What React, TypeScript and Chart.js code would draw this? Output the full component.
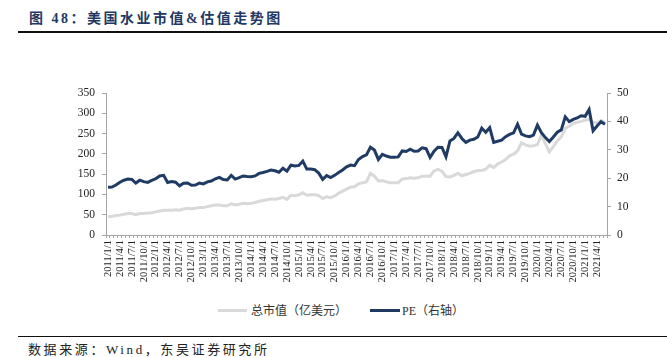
import React, { useEffect, useRef } from "react";
import { Chart, registerables } from "chart.js";

Chart.register(...registerables);

// Monthly categories 2011/1/1 ... 2021/6/1
const categories: string[] = [];
for (let y = 2011; y <= 2021; y++) {
  for (let m = 1; m <= 12; m++) {
    if (y === 2021 && m > 6) break;
    categories.push(`${y}/${m}/1`);
  }
}

// 总市值（亿美元） — left axis
const marketCap: number[] = [
  45, 46, 48, 49, 51, 53, 53, 50, 53, 53, 54, 55,
  57, 59, 61, 61, 61, 62, 61, 64, 66, 65, 66, 68,
  68, 70, 72, 74, 74, 72, 72, 77, 74, 76, 78, 77,
  78, 80, 83, 85, 87, 89, 88, 90, 93, 88, 98, 97,
  99, 104, 98, 99, 99, 97, 90, 94, 92, 96, 103, 108,
  113, 118, 119, 126, 129, 131, 152, 145, 133, 134, 131, 129,
  129, 129, 138, 139, 141, 140, 141, 145, 145, 145, 158, 162,
  157, 144, 143, 147, 152, 146, 149, 152, 156, 159, 159, 162,
  172, 166, 175, 180, 186, 195, 199, 207, 227, 222, 219, 220,
  223, 246, 225, 205, 218, 232, 242, 263, 268, 275, 278, 280,
  283, 285, 278, 276, 282, 277,
];

// PE（右轴） — right axis
const pe: number[] = [
  16.8, 16.9, 17.6, 18.6, 19.3, 19.7, 19.6, 18.3, 19.3, 18.8, 18.5, 19.2,
  19.8, 20.8, 21.0, 18.5, 18.8, 18.6, 17.3, 18.2, 18.3, 17.5, 17.6, 18.3,
  18.0, 18.7, 19.0, 19.8, 20.3, 19.5, 19.4, 21.0, 19.7, 20.2, 20.8, 20.6,
  20.5, 20.8, 21.7, 22.0, 22.4, 22.9, 22.6, 22.1, 23.5, 22.5, 24.6, 24.3,
  24.5, 26.0, 23.2, 23.2, 23.0, 21.8, 19.6, 20.9, 20.2, 21.0, 22.0, 22.9,
  24.0, 24.6, 24.4, 26.6, 27.6, 28.2, 30.9, 29.9, 26.6, 28.4, 27.8, 27.4,
  27.4, 27.5, 29.6, 29.4, 30.2, 29.5, 29.6, 30.7, 30.4, 27.3, 29.5, 30.9,
  30.8, 27.5, 33.1, 34.0, 36.0, 34.0, 32.6, 33.4, 33.7, 34.5, 37.6, 36.2,
  37.8, 32.6, 33.0, 33.4, 34.6, 35.4, 36.0, 39.0, 35.5, 34.9, 34.6, 35.2,
  38.7, 36.0, 34.3, 32.9, 34.5, 36.2, 37.0, 41.6, 39.9, 40.7, 41.2, 42.0,
  41.8, 44.2, 36.7, 38.4, 39.9, 39.0,
];

const leftTicksMax = 350;
const rightTicksMax = 50;

const NAVY = "#1f3b63";
const LIGHT = "#d9d9d9";
const AXIS = "#a6a6a6";
const SERIF = "'Liberation Serif', 'Noto Sans CJK SC', serif";
const CJK = "'Liberation Serif', 'Noto Sans CJK SC', sans-serif";

export default function App() {
  const canvasRef = useRef<HTMLCanvasElement | null>(null);

  useEffect(() => {
    const canvas = canvasRef.current;
    if (!canvas) return;
    const chart = new Chart(canvas, {
      type: "line",
      data: {
        labels: categories,
        datasets: [
          {
            label: "总市值（亿美元）",
            data: marketCap,
            yAxisID: "y",
            borderColor: LIGHT,
            backgroundColor: LIGHT,
            borderWidth: 3,
            pointRadius: 0,
            tension: 0,
            order: 1,
          },
          {
            label: "PE（右轴）",
            data: pe,
            yAxisID: "y1",
            borderColor: NAVY,
            backgroundColor: NAVY,
            borderWidth: 3,
            pointRadius: 0,
            tension: 0,
            order: 0,
          },
        ],
      },
      options: {
        animation: false,
        responsive: false,
        maintainAspectRatio: false,
        devicePixelRatio: 1,
        layout: { padding: { top: 53, left: 0, right: 0, bottom: 0 } },
        plugins: {
          legend: { display: false },
          tooltip: { enabled: false },
        },
        scales: {
          x: {
            type: "category",
            offset: true,
            grid: {
              offset: true,
              drawOnChartArea: false,
              drawTicks: true,
              tickLength: 3,
              color: AXIS,
            },
            border: { color: AXIS, width: 1 },
            ticks: {
              autoSkip: false,
              minRotation: 90,
              maxRotation: 90,
              padding: 2,
              color: "#222",
              font: { family: SERIF, size: 10.5 },
              callback: (_v: any, i: number) => (i % 3 === 0 ? categories[i] : ""),
            },
            afterFit: (s: any) => {
              s.height = 55;
            },
          },
          y: {
            position: "left",
            min: 0,
            max: leftTicksMax,
            grid: { drawOnChartArea: false, tickLength: 4, color: AXIS },
            border: { color: AXIS, width: 1 },
            ticks: {
              stepSize: 50,
              padding: 7,
              color: "#222",
              font: { family: SERIF, size: 11.5 },
            },
            afterFit: (s: any) => {
              s.width = 106;
            },
          },
          y1: {
            position: "right",
            min: 0,
            max: rightTicksMax,
            grid: { drawOnChartArea: false, tickLength: 4, color: AXIS },
            border: { color: AXIS, width: 1 },
            ticks: {
              stepSize: 10,
              padding: 6,
              color: "#222",
              font: { family: SERIF, size: 11.5 },
            },
            afterFit: (s: any) => {
              s.width = 60;
            },
          },
        },
      },
    } as any);
    return () => chart.destroy();
  }, []);

  return (
    <div
      style={{
        position: "absolute",
        left: 0,
        top: 0,
        width: 667,
        height: 357,
        background: "#fff",
        overflow: "hidden",
      }}
    >
      <div
        style={{
          position: "absolute",
          left: 29,
          top: 9,
          fontFamily: CJK,
          fontWeight: 700,
          fontSize: 14,
          lineHeight: "20px",
          letterSpacing: "2.5px",
          color: "#1f3864",
          whiteSpace: "nowrap",
        }}
      >
        图 48：美国水业市值&amp;估值走势图
      </div>
      <div style={{ position: "absolute", left: 18, top: 31, width: 649, height: 2, background: "#111" }} />
      <canvas
        ref={canvasRef}
        width={667}
        height={250}
        style={{ position: "absolute", left: 0, top: 40, width: 667, height: 250 }}
      />
      <div style={{ position: "absolute", left: 218, top: 309, width: 29, height: 3, background: LIGHT }} />
      <div
        style={{
          position: "absolute",
          left: 251,
          top: 302,
          fontFamily: CJK,
          fontSize: 12,
          lineHeight: "18px",
          color: "#333",
          whiteSpace: "nowrap",
        }}
      >
        总市值（亿美元）
      </div>
      <div style={{ position: "absolute", left: 370, top: 309, width: 30, height: 3, background: NAVY }} />
      <div
        style={{
          position: "absolute",
          left: 402,
          top: 302,
          fontFamily: CJK,
          fontSize: 12,
          lineHeight: "18px",
          color: "#333",
          whiteSpace: "nowrap",
        }}
      >
        PE（右轴）
      </div>
      <div style={{ position: "absolute", left: 18, top: 336, width: 649, height: 1, background: "#111" }} />
      <div
        style={{
          position: "absolute",
          left: 28,
          top: 341,
          fontFamily: CJK,
          fontSize: 13,
          lineHeight: "18px",
          letterSpacing: "2.6px",
          color: "#222",
          whiteSpace: "nowrap",
        }}
      >
        数据来源：Wind，东吴证券研究所
      </div>
    </div>
  );
}
